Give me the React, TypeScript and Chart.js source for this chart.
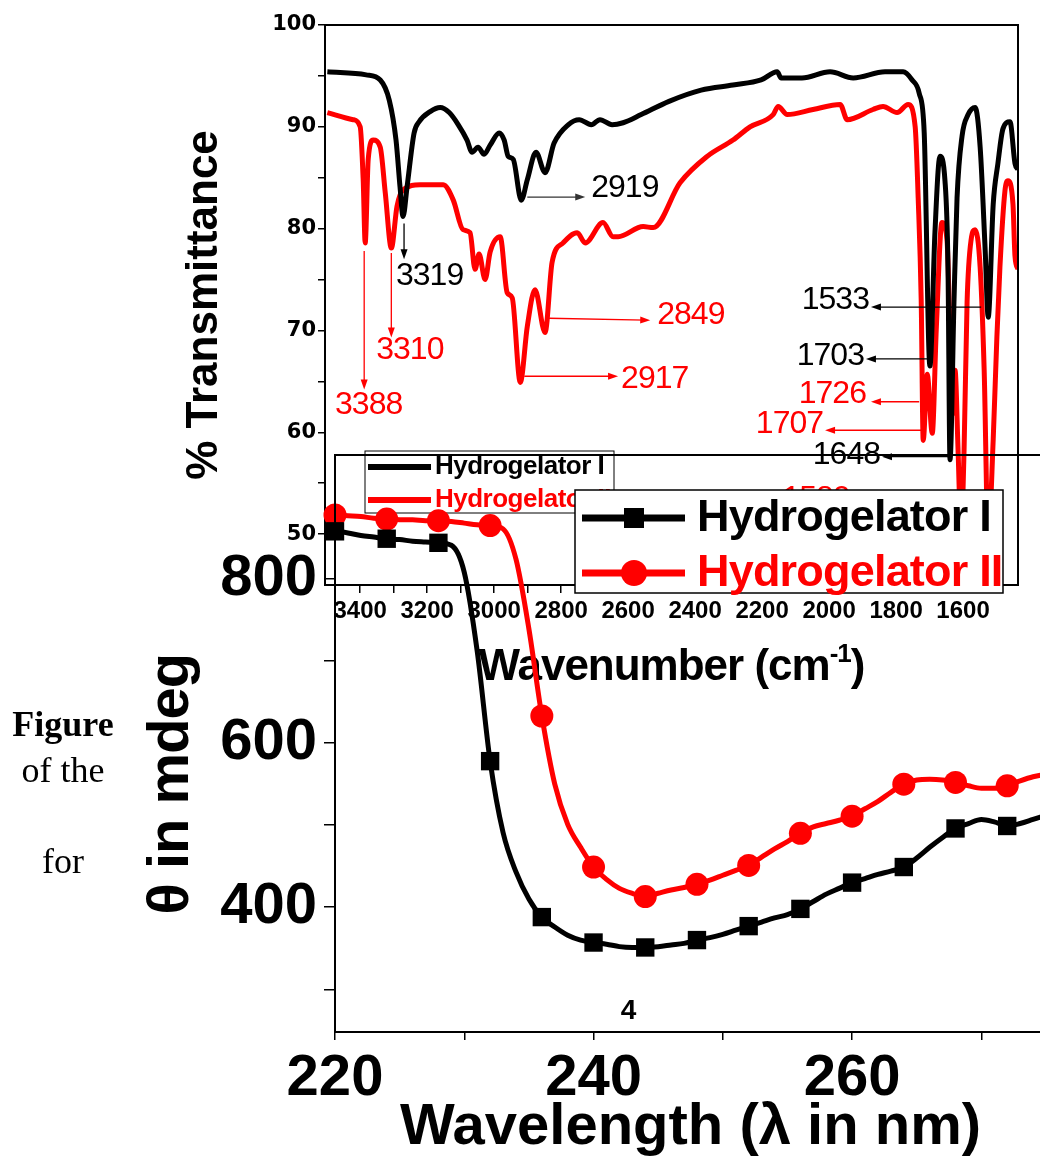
import React, { useEffect, useRef } from 'react';
import { Chart, registerables } from 'chart.js';

Chart.register(...registerables);

// ---------------- IR spectrum data ----------------
const SERIES_NAMES = ['Hydrogelator I', 'Hydrogelator II'];

const IR_WAVENUMBER_I = [3498, 3382, 3340, 3313, 3293, 3281, 3272, 3260, 3239, 3224, 3191, 3161, 3134, 3107, 3081, 3066, 3048, 3030, 3012, 2985, 2970, 2958, 2943, 2919, 2901, 2875, 2848, 2821, 2779, 2746, 2710, 2684, 2648, 2615, 2561, 2478, 2382, 2287, 2203, 2155, 2143, 2081, 1997, 1928, 1833, 1779, 1752, 1731, 1716, 1699, 1684, 1669, 1654, 1645, 1639, 1627, 1618, 1603, 1585, 1564, 1549, 1534, 1525, 1510, 1496, 1481, 1460, 1445, 1436];
const IR_TRANSMITTANCE_I = [95.4, 95.1, 94.6, 92.6, 88.7, 84.1, 81.2, 84.1, 89.4, 90.5, 91.5, 91.9, 91.4, 90.2, 88.7, 87.5, 88.0, 87.3, 88.2, 89.4, 88.7, 87.1, 86.8, 82.8, 84.8, 87.5, 85.5, 88.4, 90.2, 90.7, 90.2, 90.7, 90.2, 90.4, 91.2, 92.5, 93.6, 94.1, 94.6, 95.4, 94.8, 94.8, 95.4, 94.8, 95.4, 95.4, 94.6, 93.3, 89.4, 66.5, 79.6, 87.1, 84.7, 76.2, 57.3, 73.0, 83.0, 89.1, 91.2, 91.9, 88.0, 77.9, 71.3, 82.4, 86.4, 89.8, 90.5, 86.4, 85.8];

const IR_WAVENUMBER_II = [3498, 3421, 3400, 3391, 3385, 3376, 3361, 3340, 3325, 3307, 3290, 3272, 3221, 3152, 3122, 3093, 3072, 3057, 3045, 3027, 3012, 2982, 2961, 2946, 2922, 2901, 2878, 2848, 2827, 2794, 2752, 2728, 2675, 2645, 2630, 2555, 2525, 2445, 2364, 2287, 2236, 2167, 2152, 2125, 2048, 1967, 1946, 1869, 1839, 1797, 1764, 1743, 1734, 1725, 1719, 1707, 1692, 1680, 1663, 1648, 1639, 1633, 1624, 1615, 1606, 1597, 1588, 1576, 1564, 1549, 1537, 1525, 1510, 1499, 1490, 1475, 1466, 1451, 1445, 1436];
const IR_TRANSMITTANCE_II = [91.4, 90.7, 90.0, 84.8, 78.6, 86.8, 88.7, 88.0, 83.5, 78.1, 82.2, 83.8, 84.3, 84.3, 82.8, 79.9, 79.6, 76.0, 77.5, 75.0, 77.7, 79.2, 73.7, 73.2, 64.9, 70.4, 74.0, 69.8, 76.7, 78.6, 79.6, 78.6, 80.6, 79.2, 79.2, 80.2, 80.1, 84.5, 87.1, 88.7, 90.0, 91.2, 92.0, 91.2, 91.7, 92.2, 90.7, 91.7, 92.0, 91.4, 92.2, 90.0, 83.0, 73.0, 59.2, 65.7, 59.9, 70.1, 80.6, 78.9, 69.4, 61.7, 66.1, 58.3, 50.0, 58.3, 72.8, 78.9, 79.9, 76.2, 66.1, 49.5, 59.3, 69.4, 76.2, 83.7, 84.7, 82.4, 77.3, 76.0];

const IR_X_TICKS = [3400, 3300, 3200, 3100, 3000, 2900, 2800, 2700, 2600, 2500, 2400, 2300, 2200, 2100, 2000, 1900, 1800, 1700, 1600, 1500];
const IR_Y_TICKS = [50, 55, 60, 65, 70, 75, 80, 85, 90, 95, 100];

// peak labels (text, arrow from peak, arrow end, text anchor) in data units
const IR_ANNOTATIONS = [
  { label: '2919', color: '#000', arrow: '#333', from: [2901, 83.1], to: [2728, 83.1], at: [2710, 84.0], align: 'left' },
  { label: '3319', color: '#000', arrow: '#000', from: [3269, 80.5], to: [3269, 77.0], at: [3293, 75.3], align: 'left' },
  { label: '3310', color: '#f00', arrow: '#f00', from: [3307, 77.6], to: [3307, 69.3], at: [3352, 68.1], align: 'left' },
  { label: '3388', color: '#f00', arrow: '#f00', from: [3388, 77.8], to: [3388, 64.2], at: [3475, 62.7], align: 'left' },
  { label: '2849', color: '#f00', arrow: '#f00', from: [2836, 71.2], to: [2534, 71.0], at: [2513, 71.5], align: 'left' },
  { label: '2917', color: '#f00', arrow: '#f00', from: [2910, 65.5], to: [2630, 65.5], at: [2621, 65.2], align: 'left' },
  { label: '1533', color: '#000', arrow: '#000', from: [1546, 72.3], to: [1875, 72.3], at: [1881, 73.0], align: 'right' },
  { label: '1703', color: '#000', arrow: '#000', from: [1696, 67.2], to: [1890, 67.2], at: [1896, 67.5], align: 'right' },
  { label: '1726', color: '#f00', arrow: '#f00', from: [1731, 63.0], to: [1875, 63.0], at: [1890, 63.7], align: 'right' },
  { label: '1707', color: '#f00', arrow: '#f00', from: [1725, 60.2], to: [2012, 60.2], at: [2018, 60.8], align: 'right' },
  { label: '1648', color: '#000', arrow: '#000', from: [1639, 57.6], to: [1842, 57.6], at: [1848, 57.8], align: 'right' },
  { label: '1580', color: '#f00', arrow: null, from: null, to: null, at: [2039, 53.4], align: 'center' },
];

// ---------------- CD spectrum data ----------------
const CD_WAVELENGTH = [220, 221, 222, 223, 224, 225, 226, 227, 228, 229, 230, 231, 232, 233, 234, 235, 236, 237, 238, 239, 240, 241, 242, 243, 244, 245, 246, 247, 248, 249, 250, 251, 252, 253, 254, 255, 256, 257, 258, 259, 260, 261, 262, 263, 264, 265, 266, 267, 268, 269, 270, 271, 272, 273, 274, 275];
const CD_THETA_I = [858, 856, 853, 851, 849, 848, 846, 845, 844, 841, 808, 712, 578, 491, 443, 410, 388, 376, 366, 360, 357, 355, 352, 351, 351, 352, 354, 356, 360, 363, 367, 372, 377, 382, 387, 391, 398, 407, 416, 423, 430, 435, 440, 444, 449, 460, 473, 485, 496, 502, 507, 504, 499, 502, 507, 512];
const CD_THETA_II = [878, 877, 876, 874, 873, 872, 872, 871, 871, 870, 868, 866, 865, 861, 824, 739, 633, 550, 501, 473, 449, 434, 423, 417, 413, 417, 421, 424, 428, 433, 439, 445, 451, 461, 471, 480, 490, 498, 502, 506, 511, 520, 529, 540, 550, 555, 556, 555, 552, 548, 545, 545, 548, 554, 559, 562];
const CD_X_TICKS = [220, 230, 240, 250, 260, 270];
const CD_Y_TICKS = [300, 400, 500, 600, 700, 800];
const CD_MARKER_STEP = 4;

const SANS = '"Liberation Sans", Arial, sans-serif';
const BLACK = '#000000';
const RED = '#ff0000';

function drawArrow(ctx: CanvasRenderingContext2D, x1: number, y1: number, x2: number, y2: number, color: string) {
  const head = 10;
  const half = 3.5;
  const ang = Math.atan2(y2 - y1, x2 - x1);
  ctx.save();
  ctx.strokeStyle = color;
  ctx.fillStyle = color;
  ctx.lineWidth = 1.3;
  ctx.beginPath();
  ctx.moveTo(x1, y1);
  ctx.lineTo(x2 - head * Math.cos(ang) * 0.5, y2 - head * Math.sin(ang) * 0.5);
  ctx.stroke();
  const bx = x2 - head * Math.cos(ang);
  const by = y2 - head * Math.sin(ang);
  ctx.beginPath();
  ctx.moveTo(x2, y2);
  ctx.lineTo(bx + half * Math.sin(ang), by - half * Math.cos(ang));
  ctx.lineTo(bx - half * Math.sin(ang), by + half * Math.cos(ang));
  ctx.closePath();
  ctx.fill();
  ctx.restore();
}

const irDecor = {
  id: 'irDecor',
  afterDraw(chart: any) {
    const { ctx, chartArea: a, scales } = chart;
    const xs = scales.x;
    const ys = scales.y;
    ctx.save();
    // frame
    ctx.strokeStyle = BLACK;
    ctx.lineWidth = 2;
    ctx.strokeRect(a.left, a.top, a.right - a.left, a.bottom - a.top);

    // peak annotations
    for (const an of IR_ANNOTATIONS) {
      if (an.from && an.to) {
        drawArrow(ctx, xs.getPixelForValue(an.from[0]), ys.getPixelForValue(an.from[1]),
          xs.getPixelForValue(an.to[0]), ys.getPixelForValue(an.to[1]), an.arrow as string);
      }
      ctx.save();
      ctx.font = `32px ${SANS}`;
      (ctx as any).letterSpacing = '-1px';
      ctx.fillStyle = an.color;
      ctx.textAlign = an.align;
      ctx.textBaseline = 'middle';
      ctx.fillText(an.label, xs.getPixelForValue(an.at[0]), ys.getPixelForValue(an.at[1]));
      ctx.restore();
    }

    // x axis title with superscript
    ctx.save();
    ctx.fillStyle = BLACK;
    ctx.textBaseline = 'alphabetic';
    ctx.textAlign = 'left';
    (ctx as any).letterSpacing = '-1px';
    const mainFont = `bold 44px ${SANS}`;
    const supFont = `bold 26px ${SANS}`;
    const p1 = 'Wavenumber (cm';
    const p2 = '-1';
    const p3 = ')';
    ctx.font = mainFont;
    const w1 = ctx.measureText(p1).width;
    const w3 = ctx.measureText(p3).width;
    ctx.font = supFont;
    const w2 = ctx.measureText(p2).width;
    const total = w1 + w2 + w3;
    const cx = (a.left + a.right) / 2;
    const base = a.bottom + 95;
    let x = cx - total / 2;
    ctx.font = mainFont;
    ctx.fillText(p1, x, base);
    x += w1;
    ctx.font = supFont;
    ctx.fillText(p2, x, base - 18);
    x += w2;
    ctx.font = mainFont;
    ctx.fillText(p3, x, base);
    ctx.restore();

    // small legend
    const lx = 365, ly = 451, lw = 249, lh = 62;
    ctx.fillStyle = '#ffffff';
    ctx.fillRect(lx, ly, lw, lh);
    ctx.strokeStyle = BLACK;
    ctx.lineWidth = 1;
    ctx.strokeRect(lx, ly, lw, lh);
    const rows = [{ y: ly + 16, c: BLACK }, { y: ly + 49, c: RED }];
    rows.forEach((r, i) => {
      ctx.strokeStyle = r.c;
      ctx.lineWidth = 6;
      ctx.beginPath();
      ctx.moveTo(lx + 3, r.y);
      ctx.lineTo(lx + 66, r.y);
      ctx.stroke();
      ctx.save();
      ctx.font = `bold 26px ${SANS}`;
      (ctx as any).letterSpacing = '-0.5px';
      ctx.fillStyle = r.c;
      ctx.textAlign = 'left';
      ctx.textBaseline = 'middle';
      ctx.fillText(SERIES_NAMES[i], lx + 70, r.y);
      ctx.restore();
    });
    ctx.restore();
  },
};

const cdDecor = {
  id: 'cdDecor',
  afterDraw(chart: any) {
    const { ctx, chartArea: a, scales } = chart;
    const xs = scales.x;
    const ys = scales.y;
    ctx.save();
    ctx.strokeStyle = BLACK;
    ctx.lineWidth = 2;
    ctx.strokeRect(a.left, a.top, a.right - a.left, a.bottom - a.top);

    // stray label "4"
    ctx.fillStyle = BLACK;
    ctx.font = `bold 28px ${SANS}`;
    ctx.textAlign = 'center';
    ctx.textBaseline = 'middle';
    ctx.fillText('4', xs.getPixelForValue(242.7), ys.getPixelForValue(273));

    // y axis title
    ctx.save();
    ctx.translate(172, ys.getPixelForValue(550));
    ctx.rotate(-Math.PI / 2);
    ctx.font = `bold 58px ${SANS}`;
    (ctx as any).letterSpacing = '-1px';
    ctx.textAlign = 'center';
    ctx.textBaseline = 'middle';
    ctx.fillText('θ in mdeg', 0, 0);
    ctx.restore();

    // legend
    const lx = 575, ly = 50, lw = 428, lh = 103;
    ctx.fillStyle = '#ffffff';
    ctx.fillRect(lx, ly, lw, lh);
    ctx.strokeStyle = BLACK;
    ctx.lineWidth = 1.5;
    ctx.strokeRect(lx, ly, lw, lh);
    const rows = [{ y: ly + 28, c: BLACK, m: 'rect' }, { y: ly + 83, c: RED, m: 'circle' }];
    rows.forEach((r, i) => {
      ctx.strokeStyle = r.c;
      ctx.fillStyle = r.c;
      ctx.lineWidth = 7;
      ctx.beginPath();
      ctx.moveTo(lx + 7, r.y);
      ctx.lineTo(lx + 110, r.y);
      ctx.stroke();
      const mx = lx + 59;
      if (r.m === 'rect') {
        ctx.fillRect(mx - 10, r.y - 10, 20, 20);
      } else {
        ctx.beginPath();
        ctx.arc(mx, r.y, 13, 0, Math.PI * 2);
        ctx.fill();
      }
      ctx.save();
      ctx.font = `bold 45px ${SANS}`;
      (ctx as any).letterSpacing = '-0.8px';
      ctx.textAlign = 'left';
      ctx.textBaseline = 'middle';
      ctx.fillText(SERIES_NAMES[i], lx + 122, r.y + 1);
      ctx.restore();
    });
    ctx.restore();
  },
};

export default function App() {
  const irRef = useRef<HTMLCanvasElement | null>(null);
  const cdRef = useRef<HTMLCanvasElement | null>(null);

  useEffect(() => {
    const tickGrid = (len: number) => ({
      display: true,
      drawOnChartArea: false,
      drawTicks: true,
      tickLength: len,
      color: BLACK,
      lineWidth: 1.5,
    });

    const ir = new Chart(irRef.current as HTMLCanvasElement, {
      type: 'line',
      data: {
        datasets: [
          {
            label: SERIES_NAMES[0],
            data: IR_WAVENUMBER_I.map((w, i) => ({ x: w, y: IR_TRANSMITTANCE_I[i] })),
            borderColor: BLACK,
            backgroundColor: BLACK,
            borderWidth: 5,
            pointRadius: 0,
            cubicInterpolationMode: 'monotone',
            fill: false,
          },
          {
            label: SERIES_NAMES[1],
            data: IR_WAVENUMBER_II.map((w, i) => ({ x: w, y: IR_TRANSMITTANCE_II[i] })),
            borderColor: RED,
            backgroundColor: RED,
            borderWidth: 5,
            pointRadius: 0,
            cubicInterpolationMode: 'monotone',
            fill: false,
          },
        ],
      },
      options: {
        animation: false,
        responsive: false,
        devicePixelRatio: 1,
        events: [],
        layout: { padding: { left: 0, top: 25, right: 22, bottom: 0 } },
        plugins: { legend: { display: false }, tooltip: { enabled: false } },
        scales: {
          x: {
            type: 'linear',
            reverse: true,
            min: 1436,
            max: 3505,
            afterBuildTicks: (s: any) => { s.ticks = IR_X_TICKS.map((v) => ({ value: v })); },
            afterFit: (s: any) => { s.height = 115; },
            grid: tickGrid(8),
            border: { display: false },
            ticks: {
              autoSkip: false,
              maxRotation: 0,
              padding: 4,
              color: BLACK,
              font: { family: SANS, size: 24, weight: 'bold' },
              callback: (v: any) => (Number(v) % 200 === 0 ? String(v) : ''),
            },
          },
          y: {
            type: 'linear',
            min: 45,
            max: 100,
            afterBuildTicks: (s: any) => { s.ticks = IR_Y_TICKS.map((v) => ({ value: v })); },
            afterFit: (s: any) => { s.width = 325; s.paddingTop = 0; s.paddingBottom = 0; },
            grid: tickGrid(7),
            border: { display: false },
            ticks: {
              padding: 2,
              color: BLACK,
              font: { family: '"DejaVu Sans", sans-serif', size: 21, weight: 'bold' },
              callback: (v: any) => (Number(v) % 10 === 0 ? String(v) : ''),
            },
            title: {
              display: true,
              text: '% Transmittance',
              color: BLACK,
              font: { family: SANS, size: 44, weight: 'bold' },
              padding: { top: 178, bottom: 0 },
            },
          },
        },
      },
      plugins: [irDecor],
    } as any);

    const cd = new Chart(cdRef.current as HTMLCanvasElement, {
      type: 'line',
      data: {
        datasets: [
          {
            label: SERIES_NAMES[0],
            data: CD_WAVELENGTH.map((w, i) => ({ x: w, y: CD_THETA_I[i] })),
            borderColor: BLACK,
            backgroundColor: BLACK,
            borderWidth: 5,
            pointStyle: 'rect',
            pointRadius: (c: any) => (CD_WAVELENGTH[c.dataIndex] % CD_MARKER_STEP === 0 ? 13 : 0),
            pointBorderWidth: 0,
            cubicInterpolationMode: 'monotone',
            clip: false,
            fill: false,
          },
          {
            label: SERIES_NAMES[1],
            data: CD_WAVELENGTH.map((w, i) => ({ x: w, y: CD_THETA_II[i] })),
            borderColor: RED,
            backgroundColor: RED,
            borderWidth: 5,
            pointStyle: 'circle',
            pointRadius: (c: any) => (CD_WAVELENGTH[c.dataIndex] % CD_MARKER_STEP === 0 ? 11.5 : 0),
            pointBorderWidth: 0,
            cubicInterpolationMode: 'monotone',
            clip: false,
            fill: false,
          },
        ],
      },
      options: {
        animation: false,
        responsive: false,
        devicePixelRatio: 1,
        events: [],
        layout: { padding: { left: 0, top: 15, right: 54, bottom: 0 } },
        plugins: { legend: { display: false }, tooltip: { enabled: false } },
        scales: {
          x: {
            type: 'linear',
            min: 220,
            max: 275,
            afterBuildTicks: (s: any) => { s.ticks = CD_X_TICKS.map((v) => ({ value: v })); },
            afterFit: (s: any) => { s.height = 133; },
            grid: tickGrid(8),
            border: { display: false },
            ticks: {
              autoSkip: false,
              maxRotation: 0,
              padding: 4,
              color: BLACK,
              font: { family: SANS, size: 58, weight: 'bold' },
              callback: (v: any) => (Number(v) % 20 === 0 ? String(v) : ''),
            },
            title: {
              display: true,
              text: 'Wavelength (λ in nm)',
              color: BLACK,
              font: { family: SANS, size: 58, weight: 'bold' },
              padding: { top: 0, bottom: 2 },
            },
          },
          y: {
            type: 'linear',
            min: 248,
            max: 951,
            afterBuildTicks: (s: any) => { s.ticks = CD_Y_TICKS.map((v) => ({ value: v })); },
            afterFit: (s: any) => { s.width = 335; s.paddingTop = 0; s.paddingBottom = 0; },
            grid: tickGrid(11),
            border: { display: false },
            ticks: {
              padding: 7,
              color: BLACK,
              font: { family: SANS, size: 58, weight: 'bold' },
              callback: (v: any) => (Number(v) % 200 === 0 ? String(v) : ''),
            },
          },
        },
      },
      plugins: [cdDecor],
    } as any);

    return () => {
      ir.destroy();
      cd.destroy();
    };
  }, []);

  const serif = '"Liberation Serif", "Times New Roman", serif';
  const sideText = (top: number): React.CSSProperties => ({
    position: 'absolute',
    left: 0,
    width: 126,
    top,
    textAlign: 'center',
    fontFamily: serif,
    fontSize: 36,
    lineHeight: '36px',
    color: '#000',
    whiteSpace: 'nowrap',
  });

  return (
    <div style={{ position: 'absolute', left: 0, top: 0, width: 1040, height: 1165, overflow: 'hidden', background: '#ffffff' }}>
      <canvas ref={irRef} width={1040} height={700} style={{ position: 'absolute', left: 0, top: 0 }} />
      <canvas ref={cdRef} width={1100} height={725} style={{ position: 'absolute', left: 0, top: 440 }} />
      <div style={{ ...sideText(706), fontWeight: 'bold' }}>Figure</div>
      <div style={sideText(752)}>of the</div>
      <div style={sideText(843)}>for</div>
    </div>
  );
}
